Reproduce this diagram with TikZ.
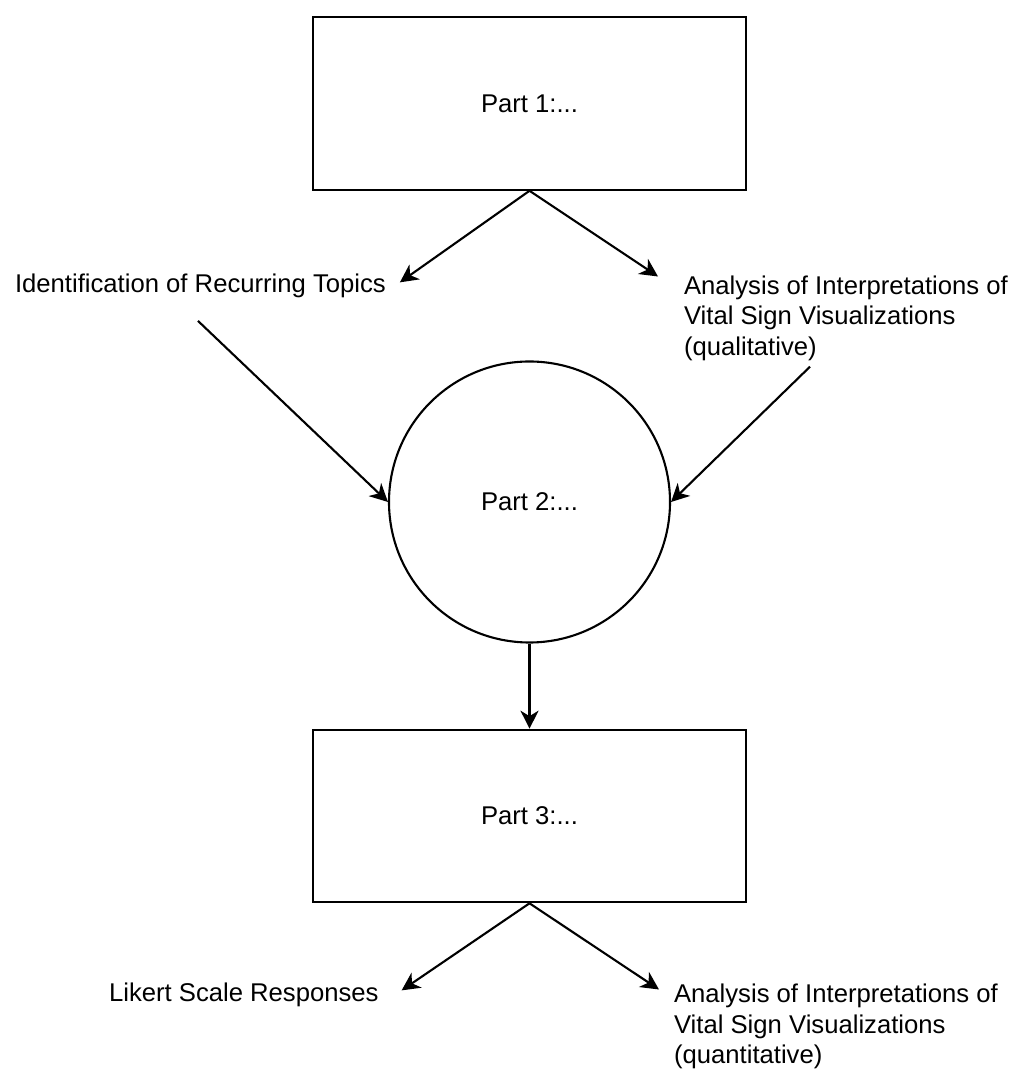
\documentclass[tikz,border=0pt]{standalone}
\usepackage{fontspec}
\setmainfont{Liberation Sans}
\usetikzlibrary{arrows.meta}

\begin{document}
\begin{tikzpicture}[
        line width=1.2pt,
        >={Stealth[length=0.36cm,width=0.36cm,inset=0.11cm]},
        every node/.style={font=\fontsize{14.6}{17.4}\selectfont},
        partbox/.style={draw,rectangle,minimum width=8.66cm,minimum height=3.45cm,inner sep=0pt},
        partcirc/.style={draw,circle,minimum size=5.62cm,inner sep=0pt},
        txt/.style={inner sep=0pt,align=left}
    ]
        \useasboundingbox (0,0) rectangle (20.28,21.4);
        \draw
            (10.59, 19.33) node[partbox] (p1){Part 1:...}
            (10.59, 11.36) node[partcirc] (p2){Part 2:...}
            (10.59, 5.08) node[partbox] (p3){Part 3:...}
            (0.28, 15.54) node[txt,anchor=base west] (topics){Identification of Recurring Topics}
            (13.66, 15.91) node[txt,anchor=north west] (qual){Analysis of Interpretations of\\Vital Sign Visualizations\\(qualitative)}
            (2.16, 1.36) node[txt,anchor=base west] (likert){Likert Scale Responses}
            (13.46, 1.74) node[txt,anchor=north west] (quant){Analysis of Interpretations of\\Vital Sign Visualizations\\(quantitative)};
        \begin{scope}[->]
            \draw (p1.south) to ([shift={(0.26,0.08)}]topics.east);
            \draw (p1.south) to ([shift={(-0.5,-0.04)}]qual.north west);
            \draw ([shift={(-0.05,-0.43)}]topics.south) to (p2.west);
            \draw ([shift={(2.54,-0.1)}]qual.south west) to (p2.east);
            \draw (p2.south) to (p3.north);
            \draw (p3.south) to ([shift={(0.44,0.1)}]likert.east);
            \draw (p3.south) to ([shift={(-0.28,-0.13)}]quant.north west);
        \end{scope}
\end{tikzpicture}
\end{document}
